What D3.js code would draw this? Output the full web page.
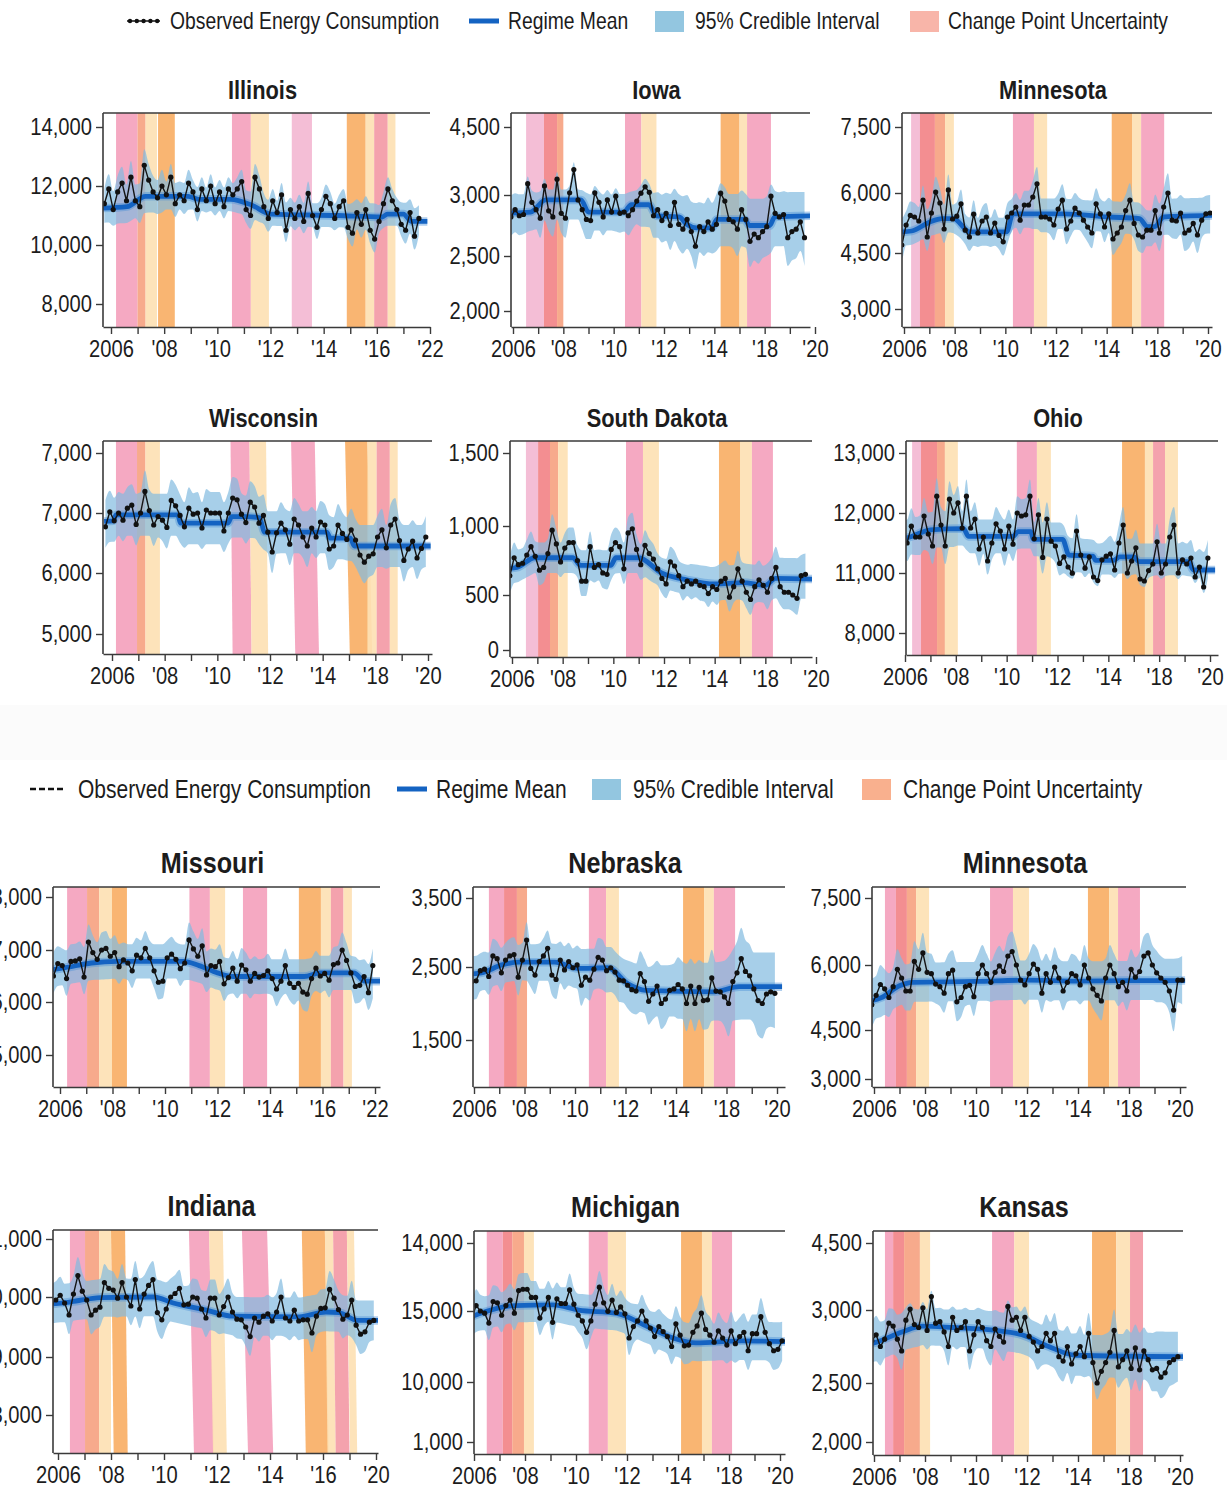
<!DOCTYPE html>
<html><head><meta charset="utf-8">
<script src="https://cdn.jsdelivr.net/npm/d3@7"></script>
<style>
html,body{margin:0;padding:0;background:#fff;}
svg{display:block;}
text{font-family:"Liberation Sans",Arial,sans-serif;fill:#1c1c1c;}
</style></head><body>
<svg id="chart" width="1227" height="1491"></svg>
<script>
// ---------------- DATA ----------------
// Observed series: one value every two months, first point at 2005.75
const T0 = 2005.75, PER_YEAR = 6;

const obsIllinois = [11400,11900,11200,11800,12100,11500,12300,11500,11300,12700,12200,11800,
11600,12000,11700,12300,11400,11700,11500,12100,11800,11200,11900,11500,
12000,11400,11800,11300,11900,11700,11900,12150,11200,11000,12300,11900,
11300,10900,11500,11100,11700,10500,11200,10900,11300,10800,11750,11000,
10600,11200,11650,11400,10900,11300,11500,10600,10400,11100,10700,11200,
10500,10200,10800,11400,11900,11500,11200,10700,10500,11100,10300,10900];
const obsIowa = [2850,2820,2880,2830,2840,3250,2940,2880,2810,3200,2870,2820,
3350,2850,2810,3050,3560,2960,2880,2800,2790,3050,2940,2820,
2960,2860,2990,2850,2860,2830,2880,2950,3040,3180,3060,2830,
2880,2790,2850,2750,2940,2760,2720,2800,2700,2580,2740,2700,
2780,2720,2760,3040,2950,2800,2780,2720,2880,2800,2620,2680,
2650,2700,2740,2990,2850,2820,2840,2650,2700,2720,2780,2650];
const obsMinnesotaA = [4850,4700,5200,5440,5400,5300,5820,4900,5500,6020,5750,5100,
6070,5350,5420,5730,5070,4900,5470,5000,5300,5400,5000,5250,
4940,4780,5400,5500,5650,5320,5700,5700,5900,6210,5400,5400,
5350,5200,5600,5820,5100,5300,5620,5500,5320,5150,5000,5730,
5480,5150,5480,4850,5000,5150,5560,5820,5240,4950,4900,5070,
5070,5560,5000,5650,6000,5320,5300,5500,5000,5070,5240,4950,5320,5480,5500];
const obsWisconsin = [6770,7020,6870,7000,6880,7080,7130,6810,7000,7360,7040,6800,
6940,6880,6760,7210,7120,6960,6770,7080,6980,7000,6750,7050,
7000,7000,7000,6700,7000,7250,7220,6980,6840,7180,7100,6830,
6960,6680,6350,6670,6830,6720,6480,6900,6800,6600,6450,6750,
6600,6850,6800,6400,6450,6800,6660,6560,6720,6550,6300,6180,
6280,6320,6600,6720,6420,6800,6900,6540,6210,6400,6530,6250,6410,6600];
const obsSouthDakota = [650,640,770,720,730,790,850,780,680,700,800,970,
870,740,840,880,880,750,600,600,850,700,720,660,
650,830,880,850,690,950,980,830,720,860,800,760,
690,620,580,740,710,640,560,600,580,600,570,560,
510,560,540,600,620,480,560,690,600,520,460,560,
610,570,520,620,700,560,520,520,500,470,640,650];
const obsOhio = [11600,11550,11500,11780,11600,11600,11950,11650,11450,12280,11800,11450,
12230,12000,12170,11750,12280,11750,11900,11400,11600,11200,11500,11820,
11700,11400,11780,11480,12000,11950,11970,12280,11570,11970,11260,11900,
11530,11450,11160,11270,11100,10990,11700,11300,11080,11270,10800,10620,
11220,11280,11320,11050,11500,11800,11000,11200,11420,10700,10600,11040,
11150,11520,11000,11150,11600,11800,11000,11220,11150,11250,10800,11100,10300,11250];
const obsMissouri = [6500,6740,6700,6450,6780,6790,6830,6480,7150,6950,6820,7000,
7030,6880,6950,6680,6810,6750,6600,6900,6850,7030,6850,6600,
6380,6400,6850,6920,6820,6640,6750,7190,7020,6880,7080,6520,
6700,6680,6780,6350,6470,6650,6400,6710,6620,6400,6550,6480,
6510,6600,6450,6250,6400,6700,6360,6280,6360,6190,6150,6450,
6650,6500,6550,6420,6720,6750,7000,6800,6560,6300,6320,6490,6180,6700];
const obsNebraska = [2330,2300,2310,2450,2470,2370,2660,2620,2420,2600,2660,2680,
2360,2600,2890,2480,2390,2580,2660,2770,2390,2330,2600,2460,
2580,2490,2530,2250,2360,2320,2470,2640,2600,2450,2490,2430,
2320,2310,2250,2190,2170,2410,2300,2030,2130,2240,2000,2060,
2180,2200,2260,2200,2000,2240,2000,2220,2040,2050,2350,2170,
2160,2090,2000,2300,2420,2620,2440,2380,2200,2040,2000,2130,2160,2140];
const obsMinnesotaB = [5000,5080,5300,5550,5450,5250,5500,5900,5700,5400,5400,6080,
5900,6270,5830,5800,5560,5500,5350,5800,5880,5150,5250,5500,
5530,5270,5800,6000,5800,5600,5830,5980,5850,6200,6300,6000,
5650,5540,5800,6020,5900,5350,5800,5600,5950,5700,5400,5600,
5800,5750,5540,6000,5700,5450,5300,5170,5700,6000,5800,5500,
5600,5400,5900,5720,5850,6200,6270,6000,5820,5700,5600,5400,4960,5650,5650];
const obsIndiana = [9900,9950,10030,9900,9700,10050,10370,10100,9950,9700,9780,9830,
10250,10150,10120,9980,10250,10000,9850,10300,9800,10050,10200,10300,
9740,9620,9800,10000,10060,10150,9870,9880,10000,9980,9800,9650,
9980,9980,9700,9840,10000,9750,9630,9620,9500,9340,9650,9580,
9680,9720,9600,9750,10000,9650,9600,9780,9600,9620,9620,9400,
9680,9810,9820,10130,9980,9790,9630,9700,9950,9530,9380,9420,9580,9610];
const obsMichigan = [14600,14500,15400,15000,14850,14150,15700,15600,14700,15400,15800,14850,
16500,16600,16600,16000,16000,14500,15150,16000,14200,15900,15550,15550,
16550,15500,14700,14300,13500,14300,15500,16750,15600,14980,15800,14900,
15300,14800,13100,13900,14300,15000,14300,13800,13200,13900,13550,13200,
12500,14100,13300,12550,12600,13500,13950,14850,13700,13300,12800,13600,
13100,12600,13600,12700,13200,13500,12200,13400,13400,14600,13500,12700,12200,12300,12900];
const obsKansas = [2770,2790,2830,2750,2800,2910,2890,2800,2720,2930,3020,2900,
2880,3050,2860,3300,2910,2920,2850,2750,2950,2860,2880,2920,
2720,2830,2920,2880,2790,2750,2870,2820,2780,3080,2930,2950,
2860,2950,2820,2780,2720,2750,2840,2790,2840,2680,2650,2750,
2630,2700,2750,2680,2840,2640,2500,2580,2640,2710,2860,2610,
2660,2720,2600,2740,2590,2720,2660,2590,2600,2540,2570,2640,2660,2680];

// Regime mean: [year, level]
const regimeIllinois = [[2005.7,11250],[2006.6,11300],[2007.3,11650],[2008.9,11650],[2009.3,11550],[2010.5,11550],[2011.3,11350],[2012.0,11050],[2014.5,11000],[2016.2,10950],[2016.4,11050],[2017.0,11050],[2017.3,10800],[2017.9,10800]];
const regimeIowa = [[2005.7,2850],[2006.7,2860],[2007.3,2960],[2008.7,2960],[2009.0,2860],[2010.4,2860],[2010.7,2920],[2011.4,2920],[2011.7,2830],[2012.6,2820],[2012.9,2760],[2013.3,2730],[2013.9,2730],[2014.1,2800],[2015.2,2800],[2015.4,2750],[2016.2,2750],[2016.4,2820],[2018.0,2830]];
const regimeMinnesotaA = [[2005.7,5020],[2006.3,5050],[2007.0,5270],[2007.5,5360],[2007.95,5360],[2008.6,5030],[2010.05,5030],[2010.3,5480],[2012.3,5480],[2014.1,5400],[2015.3,5360],[2015.6,5160],[2015.9,5160],[2016.25,5400],[2018.2,5440]];
const regimeWisconsin = [[2005.7,6860],[2006.05,6870],[2006.15,6970],[2008.5,6970],[2008.6,6830],[2010.4,6830],[2010.55,6940],[2011.1,6940],[2011.6,6920],[2011.8,6680],[2014.15,6680],[2014.3,6580],[2015.05,6580],[2015.2,6450],[2018.1,6450]];
const regimeSouthDakota = [[2005.7,690],[2006.2,700],[2006.9,770],[2008.4,770],[2008.7,715],[2009.9,715],[2010.1,770],[2011.0,770],[2011.9,660],[2012.9,610],[2014.0,580],[2015.1,590],[2016.0,570],[2016.4,620],[2017.9,615]];
const regimeOhio = [[2005.7,11550],[2006.2,11600],[2007.0,11720],[2008.3,11740],[2008.5,11610],[2010.25,11610],[2010.45,11690],[2010.95,11690],[2011.05,11560],[2012.2,11560],[2012.45,11300],[2013.4,11280],[2013.5,11210],[2014.2,11210],[2014.45,11270],[2015.0,11270],[2015.2,11190],[2017.15,11190],[2017.35,11050],[2018.2,11050]];
const regimeMissouri = [[2005.7,6620],[2006.2,6660],[2007.2,6750],[2008.2,6780],[2010.7,6780],[2011.3,6700],[2012.0,6560],[2012.6,6490],[2015.3,6490],[2015.9,6560],[2017.2,6560],[2017.6,6400],[2018.2,6400]];
const regimeNebraska = [[2005.7,2400],[2006.3,2420],[2007.1,2530],[2007.8,2570],[2009.2,2570],[2010.1,2480],[2011.3,2490],[2012.1,2270],[2012.8,2180],[2015.5,2160],[2016.5,2230],[2018.2,2230]];
const regimeMinnesotaB = [[2005.7,5150],[2006.3,5250],[2007.0,5520],[2007.5,5600],[2010.0,5620],[2012.0,5650],[2014.0,5630],[2016.0,5640],[2018.2,5640]];
const regimeIndiana = [[2005.7,9880],[2006.5,9920],[2007.6,9990],[2009.6,10000],[2010.35,9900],[2011.6,9780],[2012.6,9680],[2015.1,9670],[2016.1,9750],[2016.6,9740],[2017.3,9610],[2018.2,9610]];
const regimeMichigan = [[2005.7,14450],[2006.2,14800],[2007.6,15400],[2009.1,15450],[2010.1,15070],[2011.6,14830],[2012.8,13900],[2013.85,13070],[2014.7,12750],[2016.5,12900],[2018.2,12850]];
const regimeKansas = [[2005.7,2760],[2006.1,2780],[2007.1,2850],[2007.9,2890],[2009.1,2880],[2010.8,2860],[2011.8,2830],[2012.85,2750],[2013.9,2690],[2018.2,2680]];

// 95% credible interval half-width, one value per calendar year 2005..2018
const ciIllinois = [500,550,550,450,400,400,450,400,400,400,450,400,450,450];
const ciIowa = [150,160,160,160,150,160,180,200,200,220,220,240,240,240];
const ciMinnesotaA = [350,350,350,350,350,350,380,380,380,400,400,450,450,450];
const ciWisconsin = [350,350,350,350,350,350,350,350,350,350,350,350,350,350];
const ciSouthDakota = [110,110,110,110,110,110,110,110,120,130,140,150,150,150];
const ciOhio = [300,300,300,280,280,280,280,280,280,300,300,300,300,300];
const ciMissouri = [330,330,330,330,330,330,330,330,330,330,330,330,330,330];
const ciNebraska = [250,250,250,260,270,280,300,320,350,380,400,450,480,500];
const ciMinnesotaB = [500,450,450,450,450,450,450,450,450,450,450,450,500,550];
const ciIndiana = [320,320,320,320,320,320,320,320,320,320,320,320,330,330];
const ciMichigan = [1200,1200,1200,1200,1200,1200,1200,1200,1250,1300,1300,1350,1350,1350];
const ciKansas = [130,130,130,130,130,130,130,130,140,140,150,160,170,170];

// Change-point uncertainty windows: [start, end, kind, skew]
const bandsIllinois = [[2006.19,2007.0,'p'],[2007.0,2007.3,'s'],[2007.3,2007.73,'y'],[2007.77,2008.4,'o'],[2010.55,2011.26,'p'],[2011.26,2011.94,'y'],[2012.8,2013.56,'l'],[2014.87,2015.58,'o'],[2015.58,2015.9,'y'],[2015.9,2016.41,'q'],[2016.41,2016.7,'y']];
const bandsIowa = [[2006.52,2007.23,'l'],[2007.23,2007.75,'r'],[2007.75,2008.0,'s'],[2010.45,2011.1,'p'],[2011.1,2011.7,'y'],[2014.25,2015.0,'o'],[2015.0,2015.3,'y'],[2015.3,2016.25,'p']];
const bandsMinnesotaA = [[2006.28,2006.63,'l'],[2006.63,2007.22,'r'],[2007.22,2007.62,'s'],[2007.62,2007.97,'y'],[2010.3,2011.13,'p'],[2011.13,2011.65,'y'],[2014.2,2015.0,'o'],[2015.0,2015.36,'y'],[2015.36,2016.27,'p']];
const bandsWisconsin = [[2006.15,2006.95,'p'],[2006.95,2007.27,'s'],[2007.27,2007.82,'y'],[2010.5,2011.22,'p',0.08],[2011.22,2011.85,'y',0.08],[2012.8,2013.7,'p',0.16],[2014.85,2015.7,'o',0.18],[2015.7,2016.05,'y'],[2016.05,2016.55,'q'],[2016.55,2016.85,'y']];
const bandsSouthDakota = [[2006.55,2007.03,'l'],[2007.03,2007.5,'r'],[2007.5,2007.82,'s'],[2007.82,2008.2,'y'],[2010.5,2011.17,'p'],[2011.17,2011.8,'y'],[2014.17,2015.0,'o'],[2015.0,2015.47,'y'],[2015.47,2016.3,'p']];
const bandsOhio = [[2006.28,2006.63,'l'],[2006.63,2007.26,'r'],[2007.26,2007.57,'s'],[2007.57,2008.08,'y'],[2010.4,2011.19,'p'],[2011.19,2011.74,'y'],[2014.54,2015.44,'o'],[2015.44,2015.76,'y'],[2015.76,2016.23,'q'],[2016.23,2016.74,'y']];
const bandsMissouri = [[2006.27,2007.03,'p'],[2007.03,2007.49,'s'],[2007.49,2007.98,'y'],[2007.98,2008.55,'o'],[2010.93,2011.71,'p'],[2011.71,2012.29,'y'],[2012.97,2013.89,'p'],[2015.1,2015.94,'o'],[2015.94,2016.32,'y'],[2016.32,2016.8,'q'],[2016.8,2017.12,'y']];
const bandsNebraska = [[2006.59,2007.19,'p'],[2007.19,2007.7,'r'],[2007.7,2008.1,'s'],[2010.55,2011.23,'p'],[2011.23,2011.74,'y'],[2014.28,2015.11,'o'],[2015.11,2015.5,'y'],[2015.5,2016.34,'p']];
const bandsMinnesotaB = [[2006.43,2006.86,'p'],[2006.86,2007.29,'r'],[2007.29,2007.65,'s'],[2007.65,2008.16,'y'],[2010.55,2011.45,'p'],[2011.45,2012.08,'y'],[2014.39,2015.22,'o'],[2015.22,2015.57,'y'],[2015.57,2016.43,'p']];
const bandsIndiana = [[2006.45,2007.02,'p'],[2007.02,2007.55,'s'],[2007.55,2008.0,'y'],[2008.0,2008.53,'o',0.1],[2010.94,2011.7,'p',0.19],[2011.7,2012.22,'y',0.15],[2012.94,2013.89,'p',0.23],[2015.2,2016.07,'o',0.15],[2016.07,2016.38,'y',0.1],[2016.38,2016.9,'q',0.1],[2016.9,2017.17,'y',0.12]];
const bandsMichigan = [[2006.5,2007.13,'p'],[2007.13,2007.5,'r'],[2007.5,2007.96,'s'],[2007.96,2008.35,'y'],[2010.5,2011.25,'p'],[2011.25,2011.96,'y'],[2014.12,2014.94,'o'],[2014.94,2015.33,'y'],[2015.33,2016.12,'p']];
const bandsKansas = [[2006.43,2006.75,'p'],[2006.75,2007.18,'r'],[2007.18,2007.8,'s'],[2007.8,2008.2,'y'],[2010.63,2011.5,'p'],[2011.5,2012.08,'y'],[2014.55,2015.5,'o'],[2015.5,2016.04,'y'],[2016.04,2016.55,'q']];

// Axis tick values and labels
const yTicksIllinois = [8000,10000,12000,14000], yLabelsIllinois = ["8,000","10,000","12,000","14,000"];
const yTicksIowa = [2000,2500,3000,4500], yLabelsIowa = ["2,000","2,500","3,000","4,500"];
const yTicksMinnesota = [3000,4500,6000,7500], yLabelsMinnesota = ["3,000","4,500","6,000","7,500"];
const yTicksWisconsin = [5000,6000,7000,8000], yLabelsWisconsin = ["5,000","6,000","7,000","7,000"];
const yTicksSouthDakota = [0,500,1000,1500], yLabelsSouthDakota = ["0","500","1,000","1,500"];
const yTicksOhio = [8000,11000,12000,13000], yLabelsOhio = ["8,000","11,000","12,000","13,000"];
const yTicksMissouri = [5000,6000,7000,8000], yLabelsMissouri = ["5,000","6,000","7,000","8,000"];
const yTicksNebraska = [1500,2500,3500], yLabelsNebraska = ["1,500","2,500","3,500"];
const yTicksIndiana = [8000,9000,10000,11000], yLabelsIndiana = ["8,000","9,000","10,000","11,000"];
const yTicksMichigan = [1000,10000,15000,20000], yLabelsMichigan = ["1,000","10,000","15,000","14,000"];
const yTicksKansas = [2000,2500,3000,4500], yLabelsKansas = ["2,000","2,500","3,000","4,500"];
const xYears = d3.range(2006, 2019);
const xLabels22 = ["2006","'08","'10","'12","'14","'16","'22"];
const xLabels18 = ["2006","'08","'10","'12","'14","'18","'20"];
const xLabels16 = ["2006","'08","'10","'12","'14","'16","'20"];

const legendLabels = ["Observed Energy Consumption","Regime Mean","95% Credible Interval","Change Point Uncertainty"];

// ---------------- STYLE / LAYOUT ----------------
const bandColor = {p:'#f4a2bd', l:'#f3b8d2', r:'#f28488', s:'#f6a382', o:'#f8af66', y:'#fde1b4', q:'#f39aa6'};
const SX = 0.84; // horizontal condensing of the lettering

function condense(sel) {
  sel.each(function () {
    const t = d3.select(this);
    const ax = +t.attr('x') || 0;
    t.attr('transform', `translate(${ax},0) scale(${SX},1) translate(${-ax},0)`);
  });
}

const panels = [
 {title:'Illinois', obs:obsIllinois, regime:regimeIllinois, ci:ciIllinois, bands:bandsIllinois, yT:yTicksIllinois, yL:yLabelsIllinois, xL:xLabels22, yPos:[304,245,186,127], box:[103,430,113,327,111,430], tfs:26},
 {title:'Iowa', obs:obsIowa, regime:regimeIowa, ci:ciIowa, bands:bandsIowa, yT:yTicksIowa, yL:yLabelsIowa, xL:xLabels18, yPos:[311,256,195,127], box:[511,810,113,327,513,815], tfs:26},
 {title:'Minnesota', obs:obsMinnesotaA, regime:regimeMinnesotaA, ci:ciMinnesotaA, bands:bandsMinnesotaA, yT:yTicksMinnesota, yL:yLabelsMinnesota, xL:xLabels18, yPos:[309,253,193,127], box:[902,1212,113,327,904,1208], tfs:26},
 {title:'Wisconsin', obs:obsWisconsin, regime:regimeWisconsin, ci:ciWisconsin, bands:bandsWisconsin, yT:yTicksWisconsin, yL:yLabelsWisconsin, xL:xLabels18, yPos:[634,573,513,453], box:[103,432,441,654,112,428], tfs:26},
 {title:'South Dakota', obs:obsSouthDakota, regime:regimeSouthDakota, ci:ciSouthDakota, bands:bandsSouthDakota, yT:yTicksSouthDakota, yL:yLabelsSouthDakota, xL:xLabels18, yPos:[650,595,526,453], box:[510,812,441,657,512,816], tfs:26},
 {title:'Ohio', obs:obsOhio, regime:regimeOhio, ci:ciOhio, bands:bandsOhio, yT:yTicksOhio, yL:yLabelsOhio, xL:xLabels18, yPos:[633,573,513,453], box:[906,1218,441,655,905,1210], tfs:26},
 {title:'Missouri', obs:obsMissouri, regime:regimeMissouri, ci:ciMissouri, bands:bandsMissouri, yT:yTicksMissouri, yL:yLabelsMissouri, xL:xLabels22, yPos:[1055,1002,950,897], box:[53,380,887,1087,60,375], tfs:30},
 {title:'Nebraska', obs:obsNebraska, regime:regimeNebraska, ci:ciNebraska, bands:bandsNebraska, yT:yTicksNebraska, yL:yLabelsNebraska, xL:xLabels18, yPos:[1040,967,898], box:[473,785,887,1087,474,777], tfs:30},
 {title:'Minnesota', obs:obsMinnesotaB, regime:regimeMinnesotaB, ci:ciMinnesotaB, bands:bandsMinnesotaB, yT:yTicksMinnesota, yL:yLabelsMinnesota, xL:xLabels18, yPos:[1079,1030,965,898], box:[872,1186,887,1087,874,1180], tfs:30},
 {title:'Indiana', obs:obsIndiana, regime:regimeIndiana, ci:ciIndiana, bands:bandsIndiana, yT:yTicksIndiana, yL:yLabelsIndiana, xL:xLabels16, yPos:[1415,1357,1297,1239], box:[53,378,1230,1453,58,376], tfs:30},
 {title:'Michigan', obs:obsMichigan, regime:regimeMichigan, ci:ciMichigan, bands:bandsMichigan, yT:yTicksMichigan, yL:yLabelsMichigan, xL:xLabels18, yPos:[1442,1382,1311,1243], box:[474,785,1231,1454,474,780], tfs:30},
 {title:'Kansas', obs:obsKansas, regime:regimeKansas, ci:ciKansas, bands:bandsKansas, yT:yTicksKansas, yL:yLabelsKansas, xL:xLabels18, yPos:[1442,1383,1310,1243], box:[873,1183,1231,1455,874,1180], tfs:30}
];

const svg = d3.select('#chart');
svg.append('rect').attr('x',0).attr('y',0).attr('width',1227).attr('height',1491).attr('fill','#ffffff');
svg.append('rect').attr('x',0).attr('y',705).attr('width',1227).attr('height',55).attr('fill','#fbfbfb');
const defs = svg.append('defs');

panels.forEach((p, pi) => {
  const [left, right, top, bottom, x06, x18] = p.box;
  const yr = (x18 - x06) / 12;
  const x = d3.scaleLinear().domain([2006 + (left - x06) / yr, 2006 + (right - x06) / yr]).range([left, right]);
  const y = d3.scaleLinear().domain(p.yT).range(p.yPos);
  const mean = d3.scaleLinear().domain(p.regime.map(d => d[0])).range(p.regime.map(d => d[1])).clamp(true);

  const pts = p.obs.map((v, i) => {
    const t = T0 + i / PER_YEAR;
    const k = Math.max(0, Math.min(p.ci.length - 1, Math.floor(t) - 2005));
    const m = mean(t);
    return {t, v, hi: Math.max(v, m) + p.ci[k], lo: Math.min(v, m) - p.ci[k]};
  });

  defs.append('clipPath').attr('id', 'clip' + pi)
    .append('rect').attr('x', left).attr('y', top).attr('width', right - left).attr('height', bottom - top);

  const g = svg.append('g');
  const plot = g.append('g').attr('clip-path', `url(#clip${pi})`);

  plot.selectAll('polygon.band').data(p.bands).join('polygon')
    .attr('class', 'band')
    .attr('points', d => {
      const sk = d[3] || 0;
      return [[x(d[0]), top], [x(d[1]), top], [x(d[1] + sk), bottom], [x(d[0] + sk), bottom]].map(q => q.join(',')).join(' ');
    })
    .attr('fill', d => bandColor[d[2]]).attr('opacity', 0.92);

  plot.append('path').datum(pts)
    .attr('d', d3.area().x(d => x(d.t)).y0(d => y(d.lo)).y1(d => y(d.hi)).curve(d3.curveMonotoneX))
    .attr('fill', '#82bbe0').attr('opacity', 0.7);

  const rl = d3.line().x(d => x(d[0])).y(d => y(d[1])).curve(d3.curveMonotoneX);
  plot.append('path').datum(p.regime).attr('d', rl).attr('fill', 'none')
    .attr('stroke', '#4f93d8').attr('stroke-width', 8.5).attr('opacity', 0.45);
  plot.append('path').datum(p.regime).attr('d', rl).attr('fill', 'none')
    .attr('stroke', '#1463c2').attr('stroke-width', 4.8);

  plot.append('path').datum(pts)
    .attr('d', d3.line().x(d => x(d.t)).y(d => y(d.v)))
    .attr('fill', 'none').attr('stroke', '#141414').attr('stroke-width', 1.4);
  plot.selectAll('circle.obs').data(pts).join('circle').attr('class', 'obs')
    .attr('cx', d => x(d.t)).attr('cy', d => y(d.v)).attr('r', 2.6).attr('fill', '#111');

  g.append('line').attr('x1', left).attr('x2', right).attr('y1', top).attr('y2', top)
    .attr('stroke', '#3a3a3a').attr('stroke-width', 1.5);
  g.append('line').attr('x1', left).attr('x2', left).attr('y1', top).attr('y2', bottom)
    .attr('stroke', '#3a3a3a').attr('stroke-width', 1.6);

  const ax = g.append('g').attr('transform', `translate(0,${bottom})`)
    .call(d3.axisBottom(x).tickValues(xYears).tickSize(7).tickSizeOuter(0).tickPadding(6)
      .tickFormat(d => ((d - 2006) % 2 === 0) ? p.xL[(d - 2006) / 2] : ''));
  ax.select('.domain').attr('stroke', '#3a3a3a').attr('stroke-width', 1.6);
  ax.selectAll('.tick line').attr('stroke', '#3a3a3a').attr('stroke-width', 1.4);
  ax.selectAll('.tick text').attr('font-size', 24).attr('fill', '#1c1c1c')
    .style('font-family', '"Liberation Sans",Arial,sans-serif').call(condense);

  const ay = g.append('g').attr('transform', `translate(${left},0)`)
    .call(d3.axisLeft(y).tickValues(p.yT).tickSize(7).tickPadding(4).tickFormat((d, i) => p.yL[i]));
  ay.select('.domain').remove();
  ay.selectAll('.tick line').attr('stroke', '#3a3a3a').attr('stroke-width', 1.4);
  ay.selectAll('.tick text').attr('font-size', 24).attr('fill', '#1c1c1c')
    .style('font-family', '"Liberation Sans",Arial,sans-serif').call(condense);

  g.append('text').attr('x', (left + right) / 2 - 4).attr('y', top - 14)
    .attr('text-anchor', 'middle').attr('font-size', p.tfs).attr('font-weight', 'bold')
    .text(p.title).call(condense);
});

// ---------------- LEGENDS ----------------
function legend(cy, fs, pos, dashed, cpColor) {
  const g = svg.append('g');
  const [x1, t1, x2, t2, x3, t3, x4, t4] = pos;
  if (dashed) {
    g.append('line').attr('x1', x1).attr('x2', x1 + 36).attr('y1', cy).attr('y2', cy)
      .attr('stroke', '#111').attr('stroke-width', 2.6).attr('stroke-dasharray', '6,3');
  } else {
    g.append('line').attr('x1', x1).attr('x2', x1 + 33).attr('y1', cy).attr('y2', cy)
      .attr('stroke', '#111').attr('stroke-width', 1.6);
    g.selectAll('circle').data(d3.range(5)).join('circle')
      .attr('cx', d => x1 + 3 + d * 6.8).attr('cy', cy).attr('r', 2.2).attr('fill', '#111');
  }
  g.append('line').attr('x1', x2).attr('x2', x2 + 30).attr('y1', cy).attr('y2', cy)
    .attr('stroke', '#1463c2').attr('stroke-width', 5);
  g.append('rect').attr('x', x3).attr('y', cy - 10).attr('width', 29).attr('height', 21).attr('fill', '#93c6e0');
  g.append('rect').attr('x', x4).attr('y', cy - 10).attr('width', 29).attr('height', 21).attr('fill', cpColor);
  [[t1, 0], [t2, 1], [t3, 2], [t4, 3]].forEach(([tx, i]) => {
    g.append('text').attr('x', tx).attr('y', cy + fs * 0.36).attr('font-size', fs).text(legendLabels[i]).call(condense);
  });
}
legend(21, 23, [127, 170, 469, 508, 655, 695, 910, 948], false, '#f8b5a9');
legend(789, 25, [30, 78, 397, 436, 592, 633, 862, 903], true, '#f9b08e');
</script>
</body></html>
